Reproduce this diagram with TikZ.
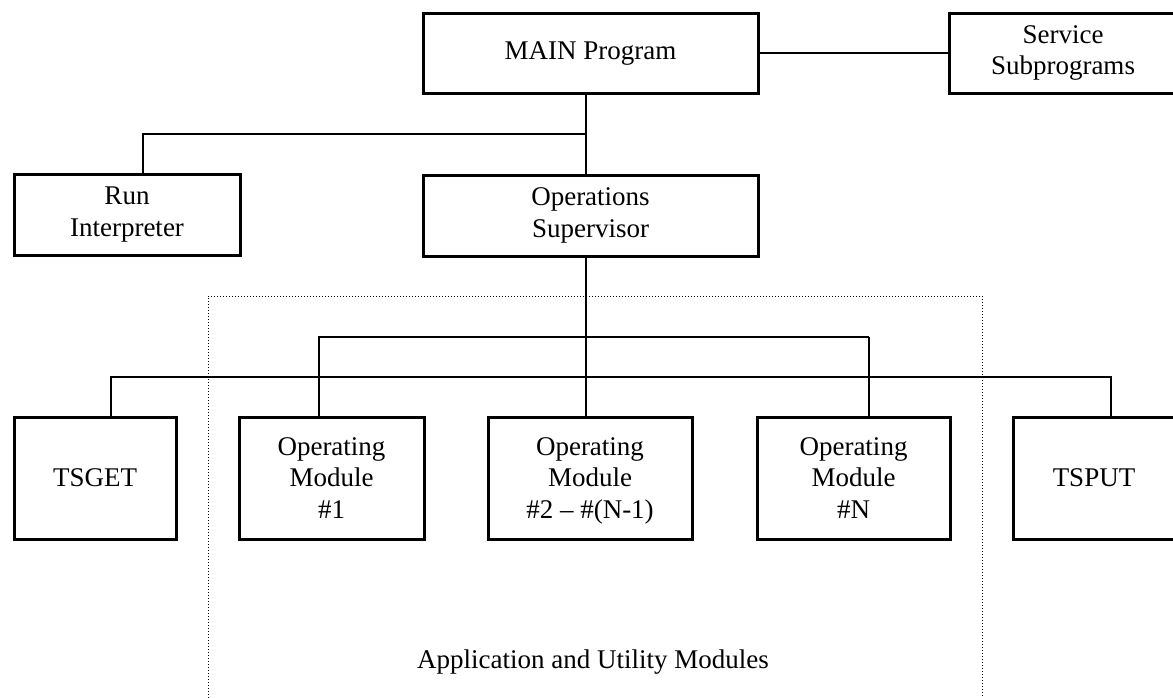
\documentclass[tikz,border=0pt]{standalone}
\usepackage{fontspec}
\setmainfont{Liberation Serif}
\usetikzlibrary{calc,positioning}

\begin{document}
\begin{tikzpicture}[x=1pt,y=-1pt,
  every node/.style={font=\fontsize{27}{31.5}\selectfont,align=center},
  blk/.style={draw,line width=3pt,inner sep=0pt},
  conn/.style={line width=2.2pt},
  thinconn/.style={line width=1.3pt}]
\useasboundingbox (0,0) rectangle (1173,697);
% application area
\node[draw,dash pattern=on 1pt off 2pt,line width=1pt,minimum width=774pt,minimum height=430pt] (apparea) at (595,511) {};
\node[anchor=base] (applabel) at (593,668) {Application and Utility Modules};
% top levels
\node[blk,minimum width=335pt,minimum height=80pt] (main) at (590.5,53) {MAIN Program};
\node[blk,minimum width=228pt,minimum height=80pt] (service) at (1063,53) {Service\\Subprograms};
\node[blk,minimum width=226pt,minimum height=81pt] (run) at (127,214.5) {Run\\Interpreter};
\node[blk,minimum width=335pt,minimum height=81pt] (ops) at (590.5,215.5) {Operations\\Supervisor};
% modules
\node[blk,minimum width=162pt,minimum height=122pt] (tsget) at (95,478) {TSGET};
\node[blk,minimum width=185pt,minimum height=122pt] (om1) at (331.5,478) {Operating\\Module\\\#1};
\node[blk,minimum width=204pt,minimum height=122pt] (om2) at (590,478) {Operating\\Module\\\smash{\#2 -- \#(N-1)}};
\node[blk,minimum width=193pt,minimum height=122pt] (omN) at (853.5,478) {Operating\\Module\\\#N};
\node[blk,minimum width=162pt,minimum height=122pt] (tsput) at (1094,478) {TSPUT};
% buses
\coordinate (ubus) at (586,337);
\coordinate (lbus) at (586,377);
\coordinate (omNtap) at ([xshift=15.5pt]omN.north);
\draw[thinconn] (main) -- (service);
\draw[conn] ([xshift=-4.5pt]main.south) -- ([xshift=-4.5pt]ops.north);
\draw[conn] ($([xshift=-4.5pt]main.south)!0.5!([xshift=-4.5pt]ops.north)$) -| ([xshift=16pt]run.north);
\draw[conn] ([xshift=-4.5pt]ops.south) -- ([xshift=-4pt]om2.north);
\draw[conn] ([xshift=-12.5pt]om1.north) |- (ubus) -- (ubus -| omNtap);
\draw[thinconn] (omNtap) -- (omNtap |- ubus);
\draw[conn] ([xshift=16pt]tsget.north) |- (lbus) -| ([xshift=17pt]tsput.north);
\end{tikzpicture}
\end{document}
